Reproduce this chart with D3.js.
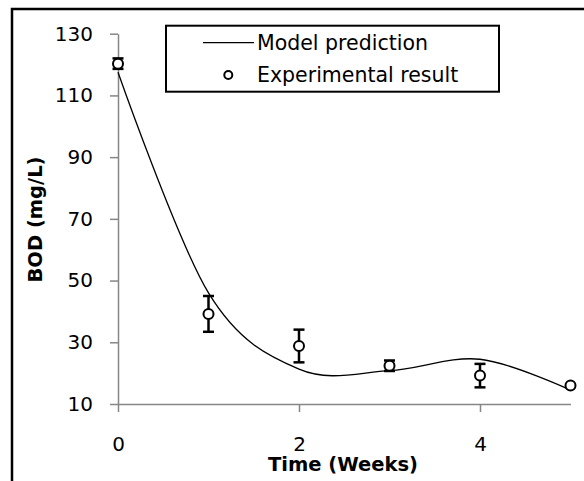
<!DOCTYPE html>
<html>
<head>
<meta charset="utf-8">
<script src="https://cdn.jsdelivr.net/npm/d3@7"></script>
<style>
  body { margin: 0; background: #fff; }
  text { font-family: "DejaVu Sans", sans-serif; }
</style>
</head>
<body>
<div id="chart"></div>
<script>
// data
const weeks = [0, 1, 2, 3, 4, 5];
const bodMeasured = [120.3, 39.2, 28.8, 22.4, 19.2, 16.0];
const bodError = [1.7, 5.8, 5.3, 1.7, 3.8, 0];
const bodModel = [117.5, 46, 21.3, 20.8, 24.5, 14.5];
const xTicks = [0, 2, 4];
const yTicks = [10, 30, 50, 70, 90, 110, 130];

const width = 584, height = 481;
const plotLeft = 118, plotRight = 570.5, plotTop = 33.7, plotBottom = 404;
const font = "'DejaVu Sans', sans-serif";

const svg = d3.select("#chart")
    .append("svg")
    .attr("width", width)
    .attr("height", height);

// outer frame (runs off the right and bottom edge)
svg.append("rect")
    .attr("x", 12).attr("y", 9)
    .attr("width", 620).attr("height", 520)
    .attr("fill", "none")
    .attr("stroke", "#000")
    .attr("stroke-width", 2.5);

const x = d3.scaleLinear().domain([0, 5]).range([plotLeft, plotRight]);
const y = d3.scaleLinear().domain([10, 130]).range([plotBottom, plotTop]);

// x axis
const gx = svg.append("g")
    .attr("transform", `translate(0,${plotBottom})`)
    .call(d3.axisBottom(x).tickValues(xTicks).tickFormat(d3.format("d"))
        .tickSizeInner(8).tickSizeOuter(0).tickPadding(25));
gx.select(".domain").attr("stroke", "#868686").attr("stroke-width", 1.5);
gx.selectAll(".tick line").attr("stroke", "#868686").attr("stroke-width", 1.5);
gx.selectAll(".tick text").attr("font-size", 20).attr("fill", "#000")
    .attr("font-family", font);

// y axis
const gy = svg.append("g")
    .attr("transform", `translate(${plotLeft},0)`)
    .call(d3.axisLeft(y).tickValues(yTicks).tickFormat(d3.format("d"))
        .tickSizeInner(8).tickSizeOuter(0).tickPadding(17));
gy.select(".domain").attr("stroke", "#868686").attr("stroke-width", 1.5);
gy.selectAll(".tick line").attr("stroke", "#868686").attr("stroke-width", 1.5);
gy.selectAll(".tick text").attr("font-size", 20).attr("fill", "#000")
    .attr("font-family", font);

// axis titles
svg.append("text")
    .attr("x", 343).attr("y", 471)
    .attr("text-anchor", "middle")
    .attr("font-size", 19.5).attr("font-weight", "bold")
    .text("Time (Weeks)");

svg.append("text")
    .attr("transform", `translate(41.5,219.5) rotate(-90)`)
    .attr("text-anchor", "middle")
    .attr("font-size", 19.5).attr("font-weight", "bold")
    .text("BOD (mg/L)");

// model line
svg.append("path")
    .datum(weeks.map((w, i) => [w, bodModel[i]]))
    .attr("fill", "none")
    .attr("stroke", "#000")
    .attr("stroke-width", 1.3)
    .attr("d", d3.line()
        .x(d => x(d[0]))
        .y(d => y(d[1]))
        .curve(d3.curveCatmullRom.alpha(0)));

// error bars
const bars = svg.append("g").attr("stroke", "#000").attr("stroke-width", 2.5);
weeks.forEach((w, i) => {
    if (bodError[i] <= 0) return;
    const cx = x(w), y1 = y(bodMeasured[i] + bodError[i]), y2 = y(bodMeasured[i] - bodError[i]);
    bars.append("line").attr("x1", cx).attr("x2", cx).attr("y1", y1).attr("y2", y2);
    bars.append("line").attr("x1", cx - 5.5).attr("x2", cx + 5.5).attr("y1", y1).attr("y2", y1);
    bars.append("line").attr("x1", cx - 5.5).attr("x2", cx + 5.5).attr("y1", y2).attr("y2", y2);
});

// experimental points
svg.selectAll(".pt")
    .data(weeks)
    .enter()
    .append("circle")
    .attr("class", "pt")
    .attr("cx", d => x(d))
    .attr("cy", (d, i) => y(bodMeasured[i]))
    .attr("r", 5)
    .attr("fill", "#fff")
    .attr("stroke", "#000")
    .attr("stroke-width", 2);

// legend
const lg = svg.append("g");
lg.append("rect")
    .attr("x", 166).attr("y", 25.7)
    .attr("width", 333).attr("height", 66)
    .attr("fill", "#fff")
    .attr("stroke", "#000")
    .attr("stroke-width", 2);
lg.append("line")
    .attr("x1", 203).attr("x2", 254)
    .attr("y1", 42.7).attr("y2", 42.7)
    .attr("stroke", "#000").attr("stroke-width", 1.3);
lg.append("circle")
    .attr("cx", 228.3).attr("cy", 75)
    .attr("r", 4)
    .attr("fill", "#fff")
    .attr("stroke", "#000").attr("stroke-width", 2);
lg.append("text")
    .attr("x", 257).attr("y", 42.7)
    .attr("dy", "0.35em")
    .attr("font-size", 20.5)
    .text("Model prediction");
lg.append("text")
    .attr("x", 257).attr("y", 75)
    .attr("dy", "0.35em")
    .attr("font-size", 20.5)
    .text("Experimental result");
</script>
</body>
</html>
